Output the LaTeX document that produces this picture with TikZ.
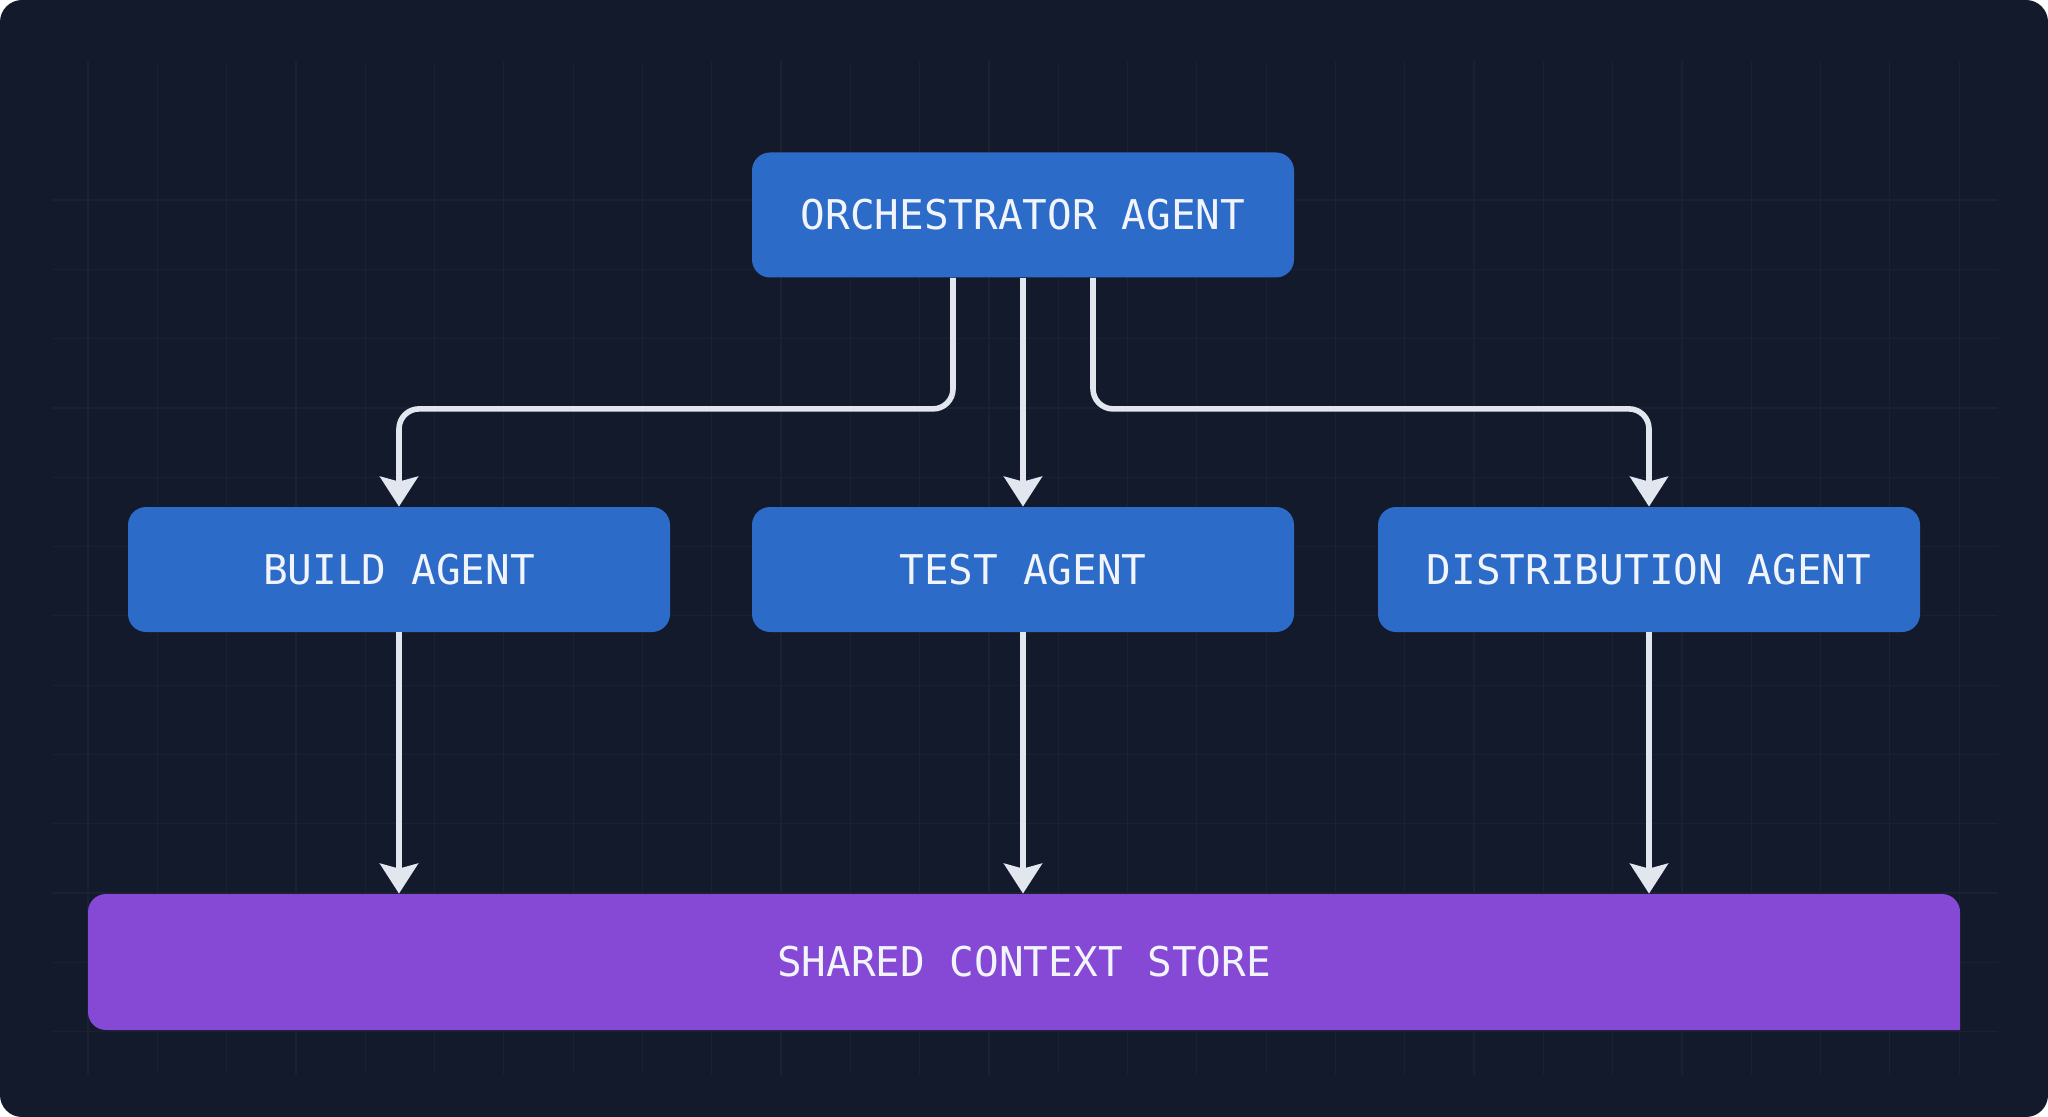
\documentclass[tikz,border=0pt]{standalone}
\usepackage{fontspec}
\newfontfamily\dmono{DejaVu Sans Mono}
\usetikzlibrary{arrows.meta,calc}
\definecolor{bgc}{HTML}{131A2B}
\definecolor{gridc}{HTML}{1A2133}
\definecolor{bluec}{HTML}{2C6BC8}
\definecolor{purc}{HTML}{8549D6}
\definecolor{linec}{HTML}{E2E6EE}
\definecolor{txtc}{HTML}{F1F4FA}
\begin{document}
\begin{tikzpicture}[x=0.5pt,y=-0.5pt,
  lbl/.style={text=txtc, font=\dmono\fontsize{20.5}{24}\selectfont},
  agent/.style={lbl, fill=bluec, rounded corners=9pt, minimum width=271pt, minimum height=62.5pt, inner sep=0pt},
  conn/.style={draw=linec, line width=2.8pt, -{Stealth[length=15pt,width=19pt,inset=2.5pt]}},
  gridline/.style={draw=gridc, line width=0.6pt}]
\useasboundingbox (0,0) rectangle (2048,1117);
\fill[white] (0,0) rectangle (2048,1117);
\fill[bgc, rounded corners=11pt] (0,0) rectangle (2048,1117);
% grid
\foreach \i in {0,...,27} \draw[gridline] ({88+69.3*\i},61) -- ({88+69.3*\i},1075);
\foreach \j in {0,...,12} \draw[gridline] (52,{200+69.3*\j}) -- (1998,{200+69.3*\j});
% nodes
\node[agent] (orch) at (1023,215) {ORCHESTRATOR AGENT};
\node[agent] (build) at (399,569.5) {BUILD AGENT};
\node[agent] (test) at (1023,569.5) {TEST AGENT};
\node[agent] (dist) at (1649,569.5) {DISTRIBUTION AGENT};
\fill[purc] (1960,1030) [rounded corners=9pt] -- (88,1030) -- (88,894) -- (1960,894) [sharp corners] -- cycle;
\node[lbl, minimum width=936pt, minimum height=68pt, inner sep=0pt] (store) at (1024,962) {SHARED CONTEXT STORE};
% connectors
\draw[conn] ([xshift=-35pt]orch.south) {[rounded corners=10pt] -- ++(0,131) -| (build.north)};
\draw[conn] (orch.south) -- (test.north);
\draw[conn] ([xshift=35pt]orch.south) {[rounded corners=10pt] -- ++(0,131) -| (dist.north)};
\draw[conn] (build.south) -- (build.south |- store.north);
\draw[conn] (test.south) -- (test.south |- store.north);
\draw[conn] (dist.south) -- (dist.south |- store.north);
\end{tikzpicture}
\end{document}
